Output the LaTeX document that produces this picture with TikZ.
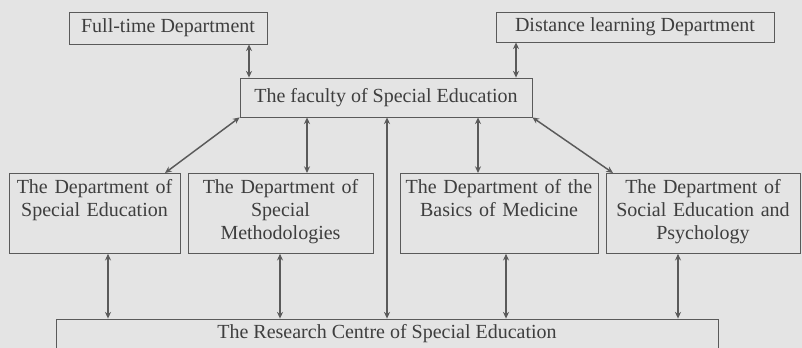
\documentclass[tikz,border=0pt]{standalone}
\usepackage{fontspec}
\setmainfont{Liberation Serif}
\usetikzlibrary{arrows.meta}
\definecolor{paper}{HTML}{E4E4E4}
\definecolor{ink}{HTML}{3E3E3E}
\definecolor{rule}{HTML}{5A5A5A}

\tikzset{
  unit/.style={draw=rule, line width=0.6pt, text=ink, inner sep=2pt,
    font=\fontsize{15}{17.25}\selectfont},
  dept/.style={unit, anchor=north, align=center, text height=13pt, text depth=43pt},
  link/.style={draw=rule, line width=1.1pt,
    {Stealth[length=5pt,width=4.5pt]}-{Stealth[length=5pt,width=4.5pt]}},
}

\begin{document}
\begin{tikzpicture}[x=0.75pt, y=-0.75pt]
    \fill[paper] (0,0) rectangle (802,348);
    \useasboundingbox (0,0) rectangle (802,348);
    % top level
    \node(fulltime)[unit, minimum width=148.5pt, minimum height=24pt] at (168,28){Full-time Department};
    \node(distance)[unit, minimum width=208.5pt, minimum height=22.5pt] at (635,27){Distance learning Department};
    \node(faculty)[unit, minimum width=219pt, minimum height=29.25pt] at (386,97.5){The faculty of Special Education};
    % departments
    \node(specedu)[dept, text width=124.25pt] at (94.5,173){The Department of\\Special Education};
    \node(methods)[dept, text width=134.75pt] at (280.5,173){The Department of\\Special\\Methodologies};
    \node(medicine)[dept, text width=144.5pt] at (499,173){The Department of the\\Basics of Medicine};
    \node(psych)[dept, text width=141.5pt] at (703,173){The Department of\\Social Education and\\Psychology};
    \node(research)[unit, minimum width=496.5pt, minimum height=22.5pt] at (387,334){The Research Centre of Special Education};
    % links
    \draw[link] (fulltime.south -| 249,0) -- (faculty.north -| 249,0);
    \draw[link] (distance.south -| 516,0) -- (faculty.north -| 516,0);
    \draw[link] (faculty.south west) -- (specedu.north -| 165,0);
    \draw[link] (faculty.south -| 307,0) -- (methods.north -| 307,0);
    \draw[link] (faculty.south -| 387,0) -- (research.north -| 387,0);
    \draw[link] (faculty.south -| 478,0) -- (medicine.north -| 478,0);
    \draw[link] (faculty.south east) -- (psych.north -| 613,0);
    \foreach \dept/\x in {specedu/108, methods/280, medicine/506, psych/678}
        \draw[link] (\dept.south -| \x,0) -- (research.north -| \x,0);
\end{tikzpicture}
\end{document}
